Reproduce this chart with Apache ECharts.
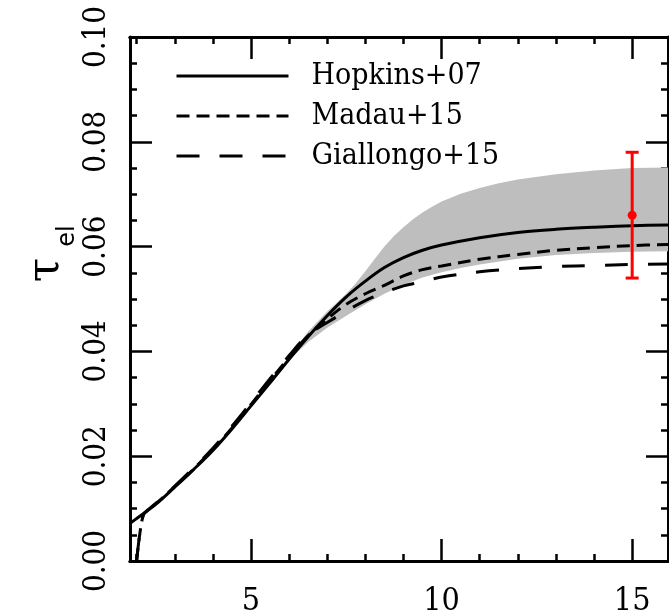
<!DOCTYPE html>
<html>
<head>
<meta charset="utf-8">
<script src="https://cdn.jsdelivr.net/npm/echarts@6/dist/echarts.min.js"></script>
<style>
html,body{margin:0;padding:0;background:#fff;}
#chart{width:669px;height:610px;}
</style>
</head>
<body>
<div id="chart"></div>
<script>
// ---- data ----
const hopkinsX = [1.83, 2.0, 2.5, 3.0, 3.5, 4.0, 4.5, 5.0, 5.5, 6.0, 6.5, 7.0, 7.5, 8.0, 8.5, 9.0, 9.5, 10.0, 11.0, 12.0, 13.0, 14.0, 15.0, 15.94];
const hopkinsY = [0.0072, 0.0081, 0.0108, 0.0141, 0.0175, 0.0211, 0.0252, 0.0296, 0.0340, 0.0385, 0.0428, 0.0468, 0.0504, 0.0534, 0.0560, 0.0579, 0.0593, 0.0603, 0.0617, 0.0627, 0.0633, 0.0637, 0.0640, 0.0641];

const madauX = [2.0, 2.08, 2.18, 2.3, 2.5, 3.0, 3.5, 4.0, 4.5, 5.0, 5.5, 6.0, 6.5, 7.0, 7.5, 8.0, 8.5, 9.0, 9.5, 10.0, 11.0, 12.0, 13.0, 14.0, 15.0, 15.94];
const madauY = [0.0, 0.0050, 0.0088, 0.0097, 0.0109, 0.0142, 0.0176, 0.0213, 0.0254, 0.0299, 0.0344, 0.0389, 0.0430, 0.0462, 0.0490, 0.0510, 0.0526, 0.0544, 0.0556, 0.0563, 0.0576, 0.0585, 0.0593, 0.0598, 0.0602, 0.0604];

const giallongoX = [2.0, 2.08, 2.18, 2.3, 2.5, 3.0, 3.5, 4.0, 4.5, 5.0, 5.5, 6.0, 6.5, 7.0, 7.5, 8.0, 8.5, 9.0, 9.5, 10.0, 11.0, 12.0, 13.0, 14.0, 15.0, 15.94];
const giallongoY = [0.0, 0.0050, 0.0089, 0.0098, 0.0110, 0.0143, 0.0178, 0.0215, 0.0257, 0.0302, 0.0348, 0.0392, 0.0432, 0.0455, 0.0477, 0.0497, 0.0512, 0.0525, 0.0533, 0.0542, 0.0552, 0.0558, 0.0562, 0.0564, 0.0566, 0.0567];

const bandUpperX = [5.5, 6.0, 6.5, 7.0, 7.5, 7.75, 8.0, 8.25, 8.5, 8.75, 9.0, 9.25, 9.5, 9.75, 10.0, 10.5, 11.0, 11.5, 12.0, 13.0, 14.0, 15.0, 15.94];
const bandUpperY = [0.0341, 0.0390, 0.0438, 0.0476, 0.0510, 0.0530, 0.0553, 0.0577, 0.0600, 0.0620, 0.0637, 0.0652, 0.0665, 0.0676, 0.0686, 0.0701, 0.0712, 0.0721, 0.0728, 0.0738, 0.0745, 0.0750, 0.0751];
const bandLowerX = [5.5, 6.0, 6.5, 7.0, 7.5, 8.0, 8.5, 9.0, 9.5, 10.0, 10.5, 11.0, 12.0, 13.0, 14.0, 15.0, 15.94];
const bandLowerY = [0.0340, 0.0383, 0.0418, 0.0445, 0.0468, 0.0490, 0.0510, 0.0527, 0.0541, 0.0551, 0.0559, 0.0566, 0.0577, 0.0584, 0.0588, 0.0590, 0.0591];

const planckZ = [15];
const planckTau = [0.066];
const planckLow = [0.054];
const planckHigh = [0.078];

const xMajorTicks = [5, 10, 15];
const xMinorTicks = [2, 3, 4, 6, 7, 8, 9, 11, 12, 13, 14];
const seriesNames = ['Hopkins+07', 'Madau+15', 'Giallongo+15'];

// ---- chart ----
const FONT = "'DejaVu Serif Condensed', 'Liberation Serif', serif";
const X_MIN = 1.826, X_MAX = 15.94;
const zip = (xs, ys) => xs.map((x, i) => [x, ys[i]]);

const baseX = (pos, ticks, len, labels) => ({
  type: 'value', position: pos, min: X_MIN, max: X_MAX,
  splitLine: { show: false },
  axisLine: { show: true, onZero: false, lineStyle: { color: '#000', width: 3 } },
  axisTick: { show: true, inside: true, length: len, customValues: ticks, lineStyle: { color: '#000', width: 2.5 } },
  axisLabel: labels ? { show: true, customValues: ticks, margin: 25, color: '#000', fontFamily: FONT, fontSize: 32 } : { show: false }
});
const baseY = (pos, labels) => ({
  type: 'value', position: pos, min: 0, max: 0.1, interval: 0.02,
  splitLine: { show: false },
  axisLine: { show: true, onZero: false, lineStyle: { color: '#000', width: 3 } },
  axisTick: { show: true, inside: true, length: 22, lineStyle: { color: '#000', width: 2.5 } },
  minorTick: { show: true, splitNumber: 4, length: 7, lineStyle: { color: '#000', width: 2.5 } },
  axisLabel: labels ? { show: true, rotate: 90, margin: 18, color: '#000', fontFamily: FONT, fontSize: 31,
                        formatter: v => v.toFixed(2) } : { show: false }
});

const lineSeries = (name, xs, ys, dash) => ({
  name, type: 'line', data: zip(xs, ys), symbol: 'none', showSymbol: false,
  smooth: 0.35, lineStyle: { color: '#000', width: 3, type: dash }, itemStyle: { color: '#000' }, z: 3
});

const chart = echarts.init(document.getElementById('chart'), null, { renderer: 'canvas' });
chart.setOption({
  animation: false,
  backgroundColor: '#fff',
  grid: { left: 130, top: 37, width: 538, height: 524, containLabel: false, outerBoundsMode: 'none' },
  xAxis: [
    baseX('bottom', xMajorTicks, 22, true),
    baseX('bottom', xMinorTicks, 7, false),
    baseX('top', xMajorTicks, 22, false),
    baseX('top', xMinorTicks, 7, false)
  ],
  yAxis: [baseY('left', true), baseY('right', false)],
  legend: {
    data: seriesNames,
    orient: 'vertical', left: 175, top: 56, padding: 0, itemGap: 0,
    itemWidth: 112, itemHeight: 2,
    itemStyle: { opacity: 0 },
    lineStyle: { width: 3 },
    textStyle: { fontFamily: FONT, fontSize: 30, color: '#000', lineHeight: 40, padding: [0, 0, 0, 18] },
    selectedMode: false
  },
  graphic: [
    { type: 'text', x: 47, y: 270, rotation: Math.PI / 2,
      style: { text: 'τ', font: "44px 'DejaVu Serif'", fill: '#000', align: 'center', verticalAlign: 'middle' } },
    { type: 'text', x: 68, y: 236, rotation: Math.PI / 2,
      style: { text: 'el', font: "24px 'DejaVu Sans'", fill: '#000', align: 'center', verticalAlign: 'middle' } }
  ],
  series: [
    { name: 'band', type: 'custom', silent: true, z: 1,
      data: bandUpperX.map((x, i) => [x, bandUpperY[i]]),
      encode: { x: 0, y: 1 },
      renderItem: (params, api) => {
        if (params.dataIndex !== 0) return null;
        const top = bandUpperX.map((x, i) => api.coord([x, bandUpperY[i]]));
        const bot = bandLowerX.map((x, i) => api.coord([x, bandLowerY[i]])).reverse();
        return { type: 'polygon', shape: { points: top.concat(bot) },
                 style: { fill: '#bebebe', stroke: 'none' } };
      }
    },
    lineSeries('Hopkins+07', hopkinsX, hopkinsY, 'solid'),
    lineSeries('Madau+15', madauX, madauY, [13, 7]),
    lineSeries('Giallongo+15', giallongoX, giallongoY, [23, 20]),
    { name: 'Planck', type: 'custom', z: 5, silent: true,
      data: planckZ.map((z, i) => [z, planckTau[i], planckLow[i], planckHigh[i]]),
      encode: { x: 0, y: [1, 2, 3] },
      renderItem: (params, api) => {
        const x = api.value(0);
        const p = api.coord([x, api.value(1)]);
        const lo = api.coord([x, api.value(2)]);
        const hi = api.coord([x, api.value(3)]);
        const st = { stroke: '#ff0000', lineWidth: 3 };
        return { type: 'group', children: [
          { type: 'line', shape: { x1: lo[0], y1: lo[1], x2: hi[0], y2: hi[1] }, style: st },
          { type: 'line', shape: { x1: lo[0] - 6.5, y1: lo[1], x2: lo[0] + 6.5, y2: lo[1] }, style: st },
          { type: 'line', shape: { x1: hi[0] - 6.5, y1: hi[1], x2: hi[0] + 6.5, y2: hi[1] }, style: st },
          { type: 'circle', shape: { cx: p[0], cy: p[1], r: 4.5 }, style: { fill: '#ff0000' } }
        ] };
      }
    }
  ]
});
</script>
</body>
</html>
